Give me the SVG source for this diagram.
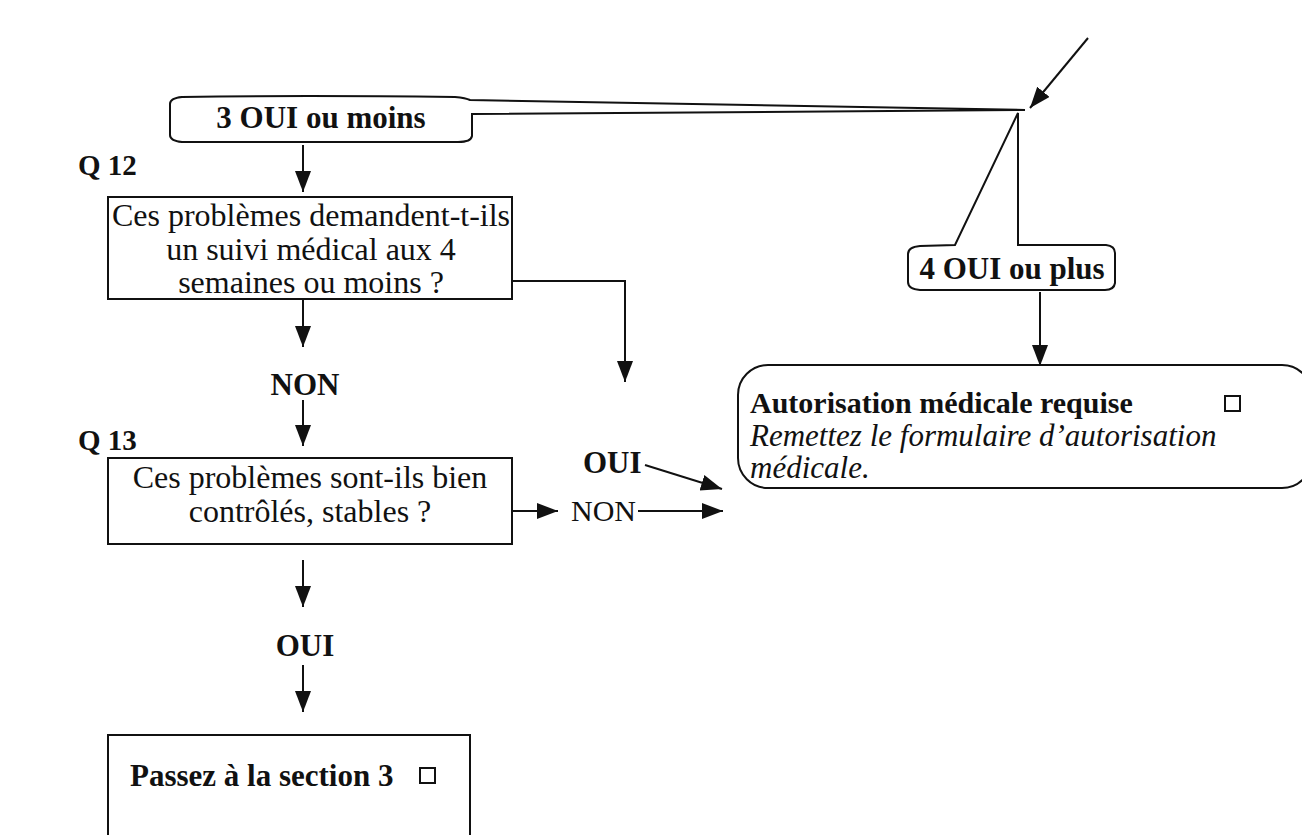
<svg xmlns="http://www.w3.org/2000/svg" width="1302" height="835" viewBox="0 0 1302 835">
<defs>
<style>
.ln{fill:none;stroke:#111;stroke-width:2}
.box{fill:#fff;stroke:#111;stroke-width:2}
.b{font-family:"Liberation Serif",serif;font-weight:bold;font-size:31px;fill:#111}
.q{font-family:"Liberation Serif",serif;font-weight:bold;font-size:29px;fill:#111}
.r{font-family:"Liberation Serif",serif;font-size:32px;fill:#111}
.i{font-family:"Liberation Serif",serif;font-style:italic;font-size:31px;fill:#111}
.c{text-anchor:middle}
</style>
<marker id="ah" markerUnits="userSpaceOnUse" markerWidth="24" markerHeight="18" refX="21" refY="8" orient="auto">
<path d="M0,0 L21,8 L0,16 z" fill="#111"/>
</marker>
</defs>
<rect width="1302" height="835" fill="#fff"/>

<g id="connectors">
<line class="ln" x1="1088" y1="38" x2="1030" y2="108" marker-end="url(#ah)"/>
<line class="ln" x1="303" y1="145" x2="303" y2="192" marker-end="url(#ah)"/>
<line class="ln" x1="303" y1="300" x2="303" y2="347" marker-end="url(#ah)"/>
<line class="ln" x1="303" y1="400" x2="303" y2="446" marker-end="url(#ah)"/>
<polyline class="ln" points="512,281 625,281 625,382" marker-end="url(#ah)"/>
<line class="ln" x1="1040" y1="292" x2="1040" y2="366" marker-end="url(#ah)"/>
<line class="ln" x1="645" y1="465" x2="722" y2="489" marker-end="url(#ah)"/>
<line class="ln" x1="512" y1="511" x2="558" y2="511" marker-end="url(#ah)"/>
<line class="ln" x1="638" y1="511" x2="723" y2="511" marker-end="url(#ah)"/>
<line class="ln" x1="303" y1="560" x2="303" y2="607" marker-end="url(#ah)"/>
<line class="ln" x1="303" y1="665" x2="303" y2="712" marker-end="url(#ah)"/>
</g>

<g id="callout-3oui">
<path class="box" d="M182,97 Q300,95 455,97 Q466,98 470,100 L1025,110 L472,114 L472,136 Q471,142 458,142 L182,142 Q170,141 170,135 L170,104 Q170,98 182,97 Z"/>
<text class="b c" x="321" y="128">3 OUI ou moins</text>
</g>

<g id="callout-4oui">
<path class="box" d="M920,246 L955,245 L1018,113 L1018,245 L1106,245 Q1115,246 1115,253 L1115,283 Q1114,290 1105,290 L920,290 Q908,289 908,282 L908,254 Q908,247 920,246 Z"/>
<text class="b c" x="1012" y="279">4 OUI ou plus</text>
</g>

<g id="q12">
<text class="q" x="78" y="175">Q 12</text>
<rect class="box" x="108" y="197" width="404" height="102"/>
<text class="r c" x="311" y="226">Ces problèmes demandent-t-ils</text>
<text class="r c" x="311" y="260">un suivi médical aux 4</text>
<text class="r c" x="311" y="293">semaines ou moins ?</text>
</g>

<g id="non1">
<text class="b c" x="305" y="395">NON</text>
</g>

<g id="q13">
<text class="q" x="78" y="450">Q 13</text>
<rect class="box" x="108" y="458" width="404" height="86"/>
<text class="r c" x="310" y="488">Ces problèmes sont-ils bien</text>
<text class="r c" x="310" y="522">contrôlés, stables ?</text>
</g>

<g id="oui-right">
<text class="b" x="583" y="473">OUI</text>
</g>

<g id="non-right">
<text class="r" x="571" y="521" style="font-size:30px">NON</text>
</g>

<g id="oui-down">
<text class="b c" x="305" y="656">OUI</text>
</g>

<g id="passez">
<path class="ln" d="M108,835 L108,735 L470,735 L470,835"/>
<text class="b" x="130" y="786">Passez à la section 3</text>
<rect x="420" y="768" width="15" height="15" fill="none" stroke="#111" stroke-width="2"/>
</g>

<g id="autorisation">
<rect class="box" x="738" y="365" width="574" height="123" rx="30" ry="30"/>
<text class="b" x="750" y="413" style="font-size:30px">Autorisation médicale requise</text>
<rect x="1225" y="396" width="15" height="15" fill="none" stroke="#111" stroke-width="2"/>
<text class="i" x="750" y="446">Remettez le formulaire d’autorisation</text>
<text class="i" x="750" y="478">médicale.</text>
</g>
</svg>
